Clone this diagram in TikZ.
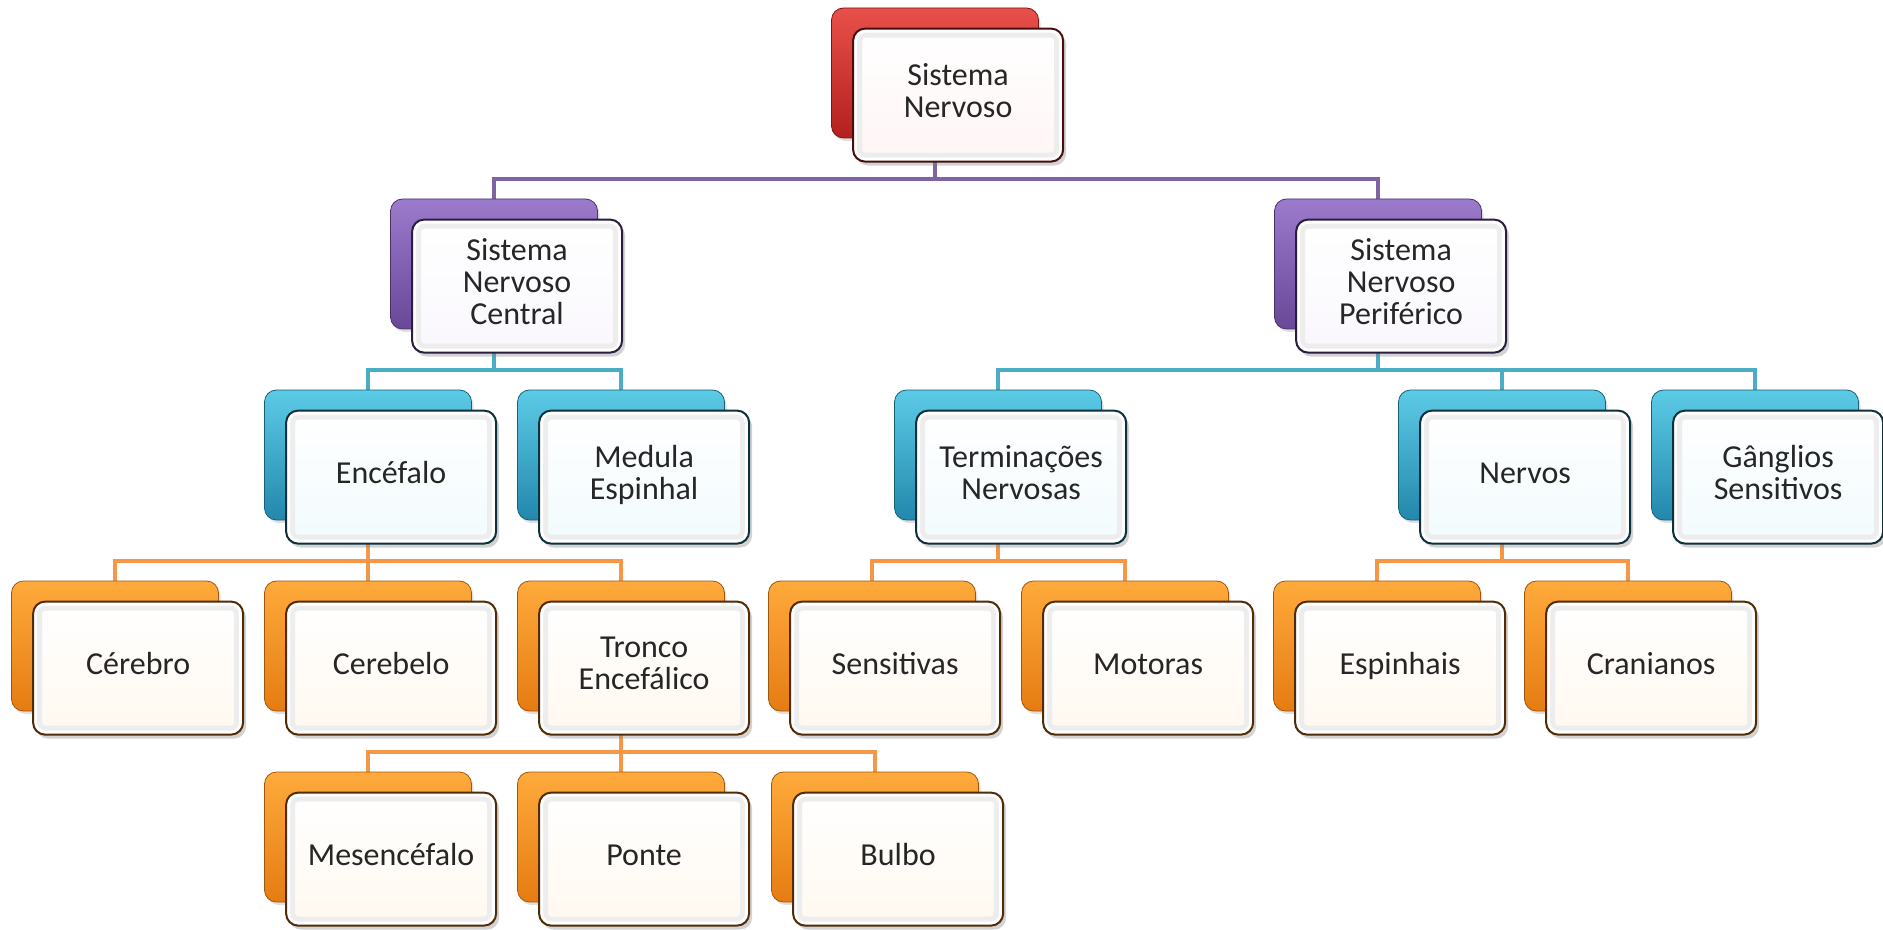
\documentclass[tikz,border=0pt]{standalone}
\usepackage{fontspec}
\setmainfont{Carlito}
\usetikzlibrary{shadows,backgrounds}

\definecolor{redtop}{HTML}{E8504A}
\definecolor{redbot}{HTML}{B3201F}
\definecolor{purtop}{HTML}{9C7ACC}
\definecolor{purbot}{HTML}{6A4898}
\definecolor{cyatop}{HTML}{5CCBE6}
\definecolor{cyabot}{HTML}{2388AC}
\definecolor{oratop}{HTML}{FFAA3C}
\definecolor{orabot}{HTML}{E57C12}
\definecolor{purline}{HTML}{8064A2}
\definecolor{cyaline}{HTML}{4BACC6}
\definecolor{oraline}{HTML}{F79646}

\begin{document}
\begin{tikzpicture}[x=0.5pt, y=-0.5pt,
    back/.style={rectangle, rounded corners=6pt, minimum width=103.5pt, minimum height=65pt, inner sep=0pt,
        drop shadow={shadow xshift=1pt, shadow yshift=-1.5pt, opacity=.25}},
    redbk/.style={back, top color=redtop, bottom color=redbot, draw=redbot!70!black, thin},
    purbk/.style={back, top color=purtop, bottom color=purbot, draw=purbot!70!black, thin},
    cyabk/.style={back, top color=cyatop, bottom color=cyabot, draw=cyabot!70!black, thin},
    orabk/.style={back, top color=oratop, bottom color=orabot, draw=orabot!70!black, thin},
    front/.style={rectangle, rounded corners=6pt, minimum width=105pt, minimum height=66.5pt, inner sep=2pt,
        anchor=north west, align=center, line width=1pt, text=black!85,
        font=\fontsize{16}{16}\selectfont,
        execute at begin node=\strut, execute at end node=\strut,
        drop shadow={shadow xshift=1.5pt, shadow yshift=-2pt, opacity=.35},
        path picture={\draw[line width=9pt, black!7] (path picture bounding box.south west) rectangle (path picture bounding box.north east);
                      \draw[line width=4pt, white] (path picture bounding box.south west) rectangle (path picture bounding box.north east);}},
    redfr/.style={front, draw=redbot!40!black, top color=white, bottom color=red!4},
    purfr/.style={front, draw=purbot!40!black, top color=white, bottom color=purtop!6},
    cyafr/.style={front, draw=cyabot!35!black, top color=white, bottom color=cyatop!8},
    orafr/.style={front, draw=orabot!35!black, top color=white, bottom color=oratop!8},
    link/.style={line width=2pt}]

    \useasboundingbox (0,0) rectangle (1883,930);

    % back boxes, rows at top = 8, 199, 390, 581, 772
    \node[redbk] (B_sn) at (935, 73) {};

    \node[purbk] (B_snc) at (494, 264) {};
    \node[purbk] (B_snp) at (1378, 264) {};

    \node[cyabk] (B_enc) at (368, 455) {};
    \node[cyabk] (B_med) at (621, 455) {};
    \node[cyabk] (B_ter) at (998, 455) {};
    \node[cyabk] (B_ner) at (1502, 455) {};
    \node[cyabk] (B_gan) at (1755, 455) {};

    \node[orabk] (B_cer) at (115, 646) {};
    \node[orabk] (B_cbl) at (368, 646) {};
    \node[orabk] (B_tro) at (621, 646) {};
    \node[orabk] (B_sen) at (872, 646) {};
    \node[orabk] (B_mot) at (1125, 646) {};
    \node[orabk] (B_esp) at (1377, 646) {};
    \node[orabk] (B_cra) at (1628, 646) {};

    \node[orabk] (B_mes) at (368, 837) {};
    \node[orabk] (B_pon) at (621, 837) {};
    \node[orabk] (B_bul) at (875, 837) {};

    % front boxes with the text
    \node[redfr] (F_sn) at ([shift={(21,20)}]B_sn.north west) {Sistema\\Nervoso};

    \node[purfr] (F_snc) at ([shift={(21,20)}]B_snc.north west) {Sistema\\Nervoso\\Central};
    \node[purfr] (F_snp) at ([shift={(21,20)}]B_snp.north west) {Sistema\\Nervoso\\Periférico};

    \node[cyafr] (F_enc) at ([shift={(21,20)}]B_enc.north west) {Encéfalo};
    \node[cyafr] (F_med) at ([shift={(21,20)}]B_med.north west) {Medula\\Espinhal};
    \node[cyafr] (F_ter) at ([shift={(21,20)}]B_ter.north west) {Terminações\\Nervosas};
    \node[cyafr] (F_ner) at ([shift={(21,20)}]B_ner.north west) {Nervos};
    \node[cyafr] (F_gan) at ([shift={(21,20)}]B_gan.north west) {Gânglios\\Sensitivos};

    \node[orafr] (F_cer) at ([shift={(21,20)}]B_cer.north west) {Cérebro};
    \node[orafr] (F_cbl) at ([shift={(21,20)}]B_cbl.north west) {Cerebelo};
    \node[orafr] (F_tro) at ([shift={(21,20)}]B_tro.north west) {Tronco\\Encefálico};
    \node[orafr] (F_sen) at ([shift={(21,20)}]B_sen.north west) {Sensitivas};
    \node[orafr] (F_mot) at ([shift={(21,20)}]B_mot.north west) {Motoras};
    \node[orafr] (F_esp) at ([shift={(21,20)}]B_esp.north west) {Espinhais};
    \node[orafr] (F_cra) at ([shift={(21,20)}]B_cra.north west) {Cranianos};

    \node[orafr] (F_mes) at ([shift={(21,20)}]B_mes.north west) {Mesencéfalo};
    \node[orafr] (F_pon) at ([shift={(21,20)}]B_pon.north west) {Ponte};
    \node[orafr] (F_bul) at ([shift={(21,20)}]B_bul.north west) {Bulbo};

    % elbow connectors behind everything
    \begin{scope}[on background layer]
        \draw[link, purline] (B_sn.south) -- ++(0,41) -| (B_snc.north);
        \draw[link, purline] (B_sn.south) -- ++(0,41) -| (B_snp.north);

        \draw[link, cyaline] (B_snc.south) -- ++(0,41) -| (B_enc.north);
        \draw[link, cyaline] (B_snc.south) -- ++(0,41) -| (B_med.north);
        \draw[link, cyaline] (B_snp.south) -- ++(0,41) -| (B_ter.north);
        \draw[link, cyaline] (B_snp.south) -- ++(0,41) -| (B_ner.north);
        \draw[link, cyaline] (B_snp.south) -- ++(0,41) -| (B_gan.north);

        \draw[link, oraline] (B_enc.south) -- ++(0,41) -| (B_cer.north);
        \draw[link, oraline] (B_enc.south) -- ++(0,41) -| (B_cbl.north);
        \draw[link, oraline] (B_enc.south) -- ++(0,41) -| (B_tro.north);
        \draw[link, oraline] (B_ter.south) -- ++(0,41) -| (B_sen.north);
        \draw[link, oraline] (B_ter.south) -- ++(0,41) -| (B_mot.north);
        \draw[link, oraline] (B_ner.south) -- ++(0,41) -| (B_esp.north);
        \draw[link, oraline] (B_ner.south) -- ++(0,41) -| (B_cra.north);

        \draw[link, oraline] (B_tro.south) -- ++(0,41) -| (B_mes.north);
        \draw[link, oraline] (B_tro.south) -- ++(0,41) -| (B_pon.north);
        \draw[link, oraline] (B_tro.south) -- ++(0,41) -| (B_bul.north);
    \end{scope}
\end{tikzpicture}
\end{document}
